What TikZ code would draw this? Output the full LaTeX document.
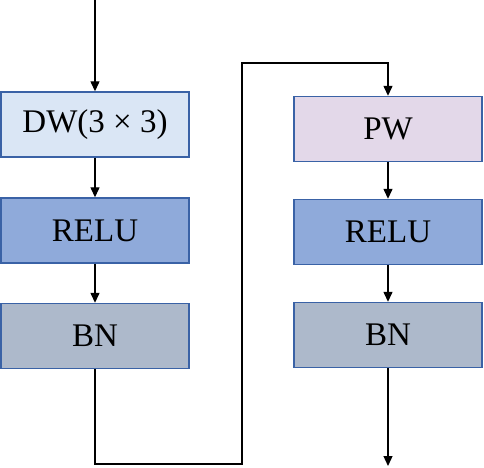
\documentclass[tikz,border=0pt]{standalone}
\usepackage{fontspec}
\setmainfont{Liberation Serif}
\usetikzlibrary{arrows.meta}
\definecolor{bordc}{HTML}{3A62A6}
\definecolor{dwc}{HTML}{DAE6F5}
\definecolor{reluc}{HTML}{8FAADA}
\definecolor{bnc}{HTML}{ADB9CB}
\definecolor{pwc}{HTML}{E3D8E9}
\begin{document}
\begin{tikzpicture}[x=1pt,y=1pt,
  blk/.style={draw=bordc, line width=1.4pt, minimum width=188pt, minimum height=65pt, inner sep=0pt, font=\fontsize{33}{38}\selectfont},
  conn/.style={line width=1.3pt, draw=black},
  arr/.style={conn, -{Triangle[length=10pt,width=9pt]}}]
\useasboundingbox (0,0) rectangle (484,467);
\node[blk, fill=dwc] (dw) at (95,342.5) {DW(3 × 3)};
\node[blk, fill=reluc] (relul) at (95,236.5) {RELU};
\node[blk, fill=bnc] (bnl) at (95,131) {BN};
\node[blk, fill=pwc] (pw) at (388,338) {PW};
\node[blk, fill=reluc] (relur) at (388,235) {RELU};
\node[blk, fill=bnc] (bnr) at (388,132) {BN};
\coordinate (in) at (95,467);
\coordinate (out) at (388,1);
\coordinate (b1) at (95,3);
\coordinate (b2) at (242,3);
\coordinate (b3) at (242,404);
\coordinate (b4) at (388,404);
\draw[arr] (in) -- (dw.north);
\draw[arr] (dw.south) -- (relul.north);
\draw[arr] (relul.south) -- (bnl.north);
\draw[arr] (bnl.south) -- (b1) -- (b2) -- (b3) -- (b4) -- (pw.north);
\draw[arr] (pw.south) -- (relur.north);
\draw[arr] (relur.south) -- (bnr.north);
\draw[arr] (bnr.south) -- (out);
\end{tikzpicture}
\end{document}
